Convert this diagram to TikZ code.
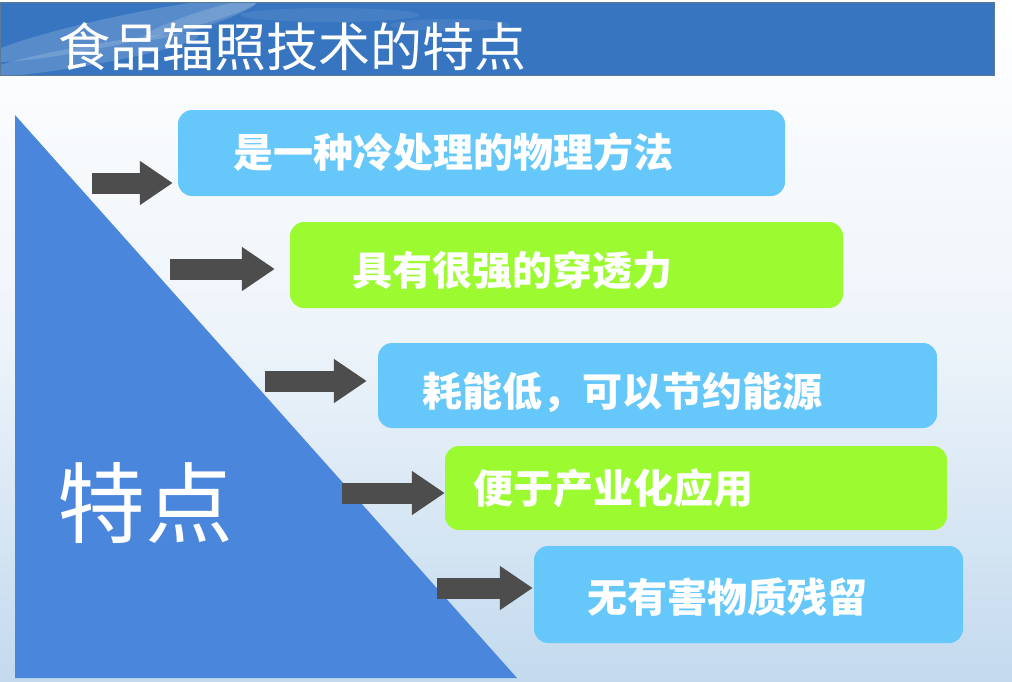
\documentclass[tikz,border=0pt]{standalone}
\usepackage{fontspec}
\newfontfamily\cjk{Noto Sans CJK SC}
\usetikzlibrary{arrows.meta,calc}
\definecolor{boxblue}{HTML}{66C8FA}
\definecolor{boxgreen}{HTML}{9BFA30}
\definecolor{triblue}{HTML}{4A86DB}
\definecolor{arrowgray}{HTML}{4D4D4D}
\definecolor{skylow}{HTML}{C3DAEE}
\definecolor{titleblue}{HTML}{3775C0}
\definecolor{titleedge}{HTML}{587A98}
\tikzset{
  itembox/.style={rounded corners=14pt, inner sep=0pt},
  bluebox/.style={itembox, fill=boxblue},
  greenbox/.style={itembox, fill=boxgreen},
  itemtext/.style={anchor=west, inner sep=0pt, text=white,
    font=\cjk\bfseries\fontsize{40}{40}\selectfont},
  blockarrow/.style={draw=arrowgray, line width=21pt,
    -{Triangle[length=33pt,width=42pt]}},
  streak/.style={white, opacity=0.16},
}
\begin{document}
\begin{tikzpicture}[x=1pt,y=-1pt]
\useasboundingbox (0,0) rectangle (1012,681);
% background sky
\shade[top color=white, bottom color=skylow, middle color=white!70!skylow] (0,0) rectangle (1012,681);
% title bar
\fill[titleblue] (0,2) rectangle (994,75);
\begin{scope}
\clip (0,2) rectangle (994,75);
\fill[streak, rotate around={12:(120,30)}] (120,30) ellipse (140pt and 14pt);
\fill[streak, rotate around={10:(90,55)}] (90,55) ellipse (110pt and 10pt);
\fill[streak, rotate around={18:(200,20)}] (200,20) ellipse (60pt and 8pt);
\fill[streak, opacity=0.08] (330,15) ellipse (90pt and 7pt);
\fill[streak, opacity=0.07] (450,25) ellipse (60pt and 6pt);
\end{scope}
\draw[titleedge, line width=1pt] (0,2) rectangle (994,75);
\node[anchor=west, inner sep=0pt, text=white, font=\cjk\fontsize{52}{52}\selectfont] (title) at (58,47) {食品辐照技术的特点};
% triangle
\fill[triblue] (15,115) -- (15,678) -- (517,678) -- cycle;
\node[inner sep=0pt, text=white, font=\cjk\fontsize{88}{88}\selectfont] (tedian) at (145,503) {特点};
% boxes
\node[bluebox, minimum width=607pt, minimum height=86pt] (b1) at (481.5,153) {};
\node[greenbox, minimum width=553pt, minimum height=86pt] (b2) at (566.5,265) {};
\node[bluebox, minimum width=559pt, minimum height=85pt] (b3) at (657.5,385.5) {};
\node[greenbox, minimum width=502pt, minimum height=84pt] (b4) at (696,488) {};
\node[bluebox, minimum width=429pt, minimum height=97pt] (b5) at (748.5,594.5) {};
% texts
\node[itemtext] (t1) at (233,152) {是一种冷处理的物理方法};
\node[itemtext] (t2) at (352,270) {具有很强的穿透力};
\node[itemtext] (t3) at (422,392) {耗能低，可以节约能源};
\node[itemtext] (t4) at (473,488) {便于产业化应用};
\node[itemtext] (t5) at (587,597) {无有害物质残留};
% arrows
\coordinate (s1) at (92,183);
\coordinate (s2) at (170,269);
\coordinate (s3) at (265,381);
\coordinate (s4) at (342,493);
\coordinate (s5) at (437,588);
\draw[blockarrow, shorten >=5pt] (s1) -- (s1 -| b1.west);
\draw[blockarrow, shorten >=15pt] (s2) -- (s2 -| b2.west);
\draw[blockarrow, shorten >=11pt] (s3) -- (s3 -| b3.west);
\draw[blockarrow] (s4) -- (s4 -| b4.west);
\draw[blockarrow, shorten >=1pt] (s5) -- (s5 -| b5.west);
\end{tikzpicture}
\end{document}
